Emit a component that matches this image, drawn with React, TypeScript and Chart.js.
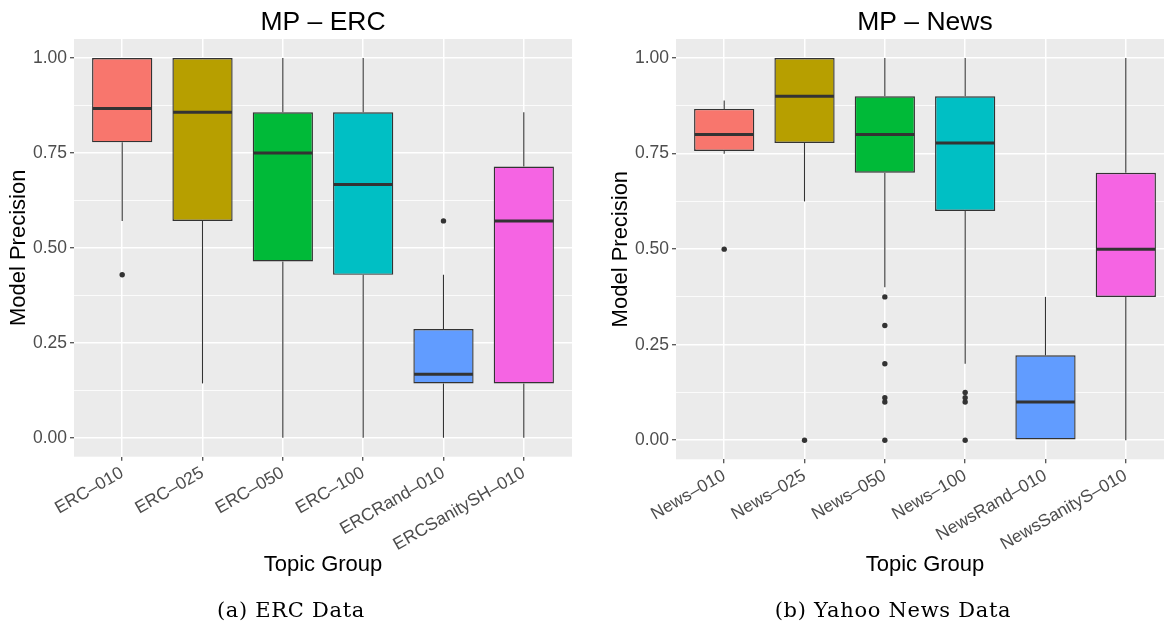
import React, { useEffect, useRef } from 'react';
import { Chart, registerables } from 'chart.js';

Chart.register(...registerables);

// ---------- data ----------
const ercCategories = ['ERC–010', 'ERC–025', 'ERC–050', 'ERC–100', 'ERCRand–010', 'ERCSanitySH–010'];
const ercWhiskerLow = [0.571, 0.143, 0, 0, 0, 0];
const ercQ1 = [0.778, 0.571, 0.464, 0.429, 0.143, 0.143];
const ercMedian = [0.867, 0.857, 0.75, 0.667, 0.167, 0.571];
const ercQ3 = [1.0, 1.0, 0.857, 0.857, 0.286, 0.714];
const ercWhiskerHigh = [1.0, 1.0, 1.0, 1.0, 0.429, 0.857];
const ercOutliers = [[0.429], [], [], [], [0.571], []];

const newsCategories = ['News–010', 'News–025', 'News–050', 'News–100', 'NewsRand–010', 'NewsSanityS–010'];
const newsWhiskerLow = [0.75, 0.625, 0.4, 0.2, 0, 0];
const newsQ1 = [0.757, 0.778, 0.7, 0.6, 0, 0.375];
const newsMedian = [0.8, 0.9, 0.8, 0.778, 0.1, 0.5];
const newsQ3 = [0.867, 1.0, 0.9, 0.9, 0.222, 0.7];
const newsWhiskerHigh = [0.889, 1.0, 1.0, 1.0, 0.375, 1.0];
const newsOutliers = [[0.5], [0], [0.375, 0.3, 0.2, 0.111, 0.1, 0], [0.125, 0.111, 0.1, 0], [], []];

const yMajorTicks = [0, 0.25, 0.5, 0.75, 1.0];
const yMinorTicks = [0.125, 0.375, 0.625, 0.875];

const fillColors = ['#F8766D', '#B79F00', '#00BA38', '#00BFC4', '#619CFF', '#F564E3'];

const FONT = "'Liberation Sans', Arial, Helvetica, sans-serif";
const INK = '#333333';

type Panel = {
  title: string;
  categories: string[];
  lo: number[];
  q1: number[];
  med: number[];
  q3: number[];
  hi: number[];
  outliers: number[][];
  left: number;
  xAxisHeight: number;
};

const panels: Panel[] = [
  {
    title: 'MP – ERC', categories: ercCategories, lo: ercWhiskerLow, q1: ercQ1, med: ercMedian,
    q3: ercQ3, hi: ercWhiskerHigh, outliers: ercOutliers, left: 0, xAxisHeight: 165.3,
  },
  {
    title: 'MP – News', categories: newsCategories, lo: newsWhiskerLow, q1: newsQ1, med: newsMedian,
    q3: newsQ3, hi: newsWhiskerHigh, outliers: newsOutliers, left: 602, xAxisHeight: 162.7,
  },
];

function BoxPlot({ p }: { p: Panel }) {
  const ref = useRef<HTMLCanvasElement>(null);

  useEffect(() => {
    const canvas = ref.current;
    if (!canvas) return;
    const pos = p.categories.map((_, i) => i + 1);
    const yGrid = [...yMajorTicks, ...yMinorTicks].sort((a, b) => a - b);
    const isMajor = (v: number) => yMajorTicks.some((t) => Math.abs(t - v) < 1e-9);

    const panelBg = {
      id: 'panelBg',
      beforeDraw(chart: any) {
        const { ctx, chartArea: a } = chart;
        ctx.save();
        ctx.fillStyle = '#EBEBEB';
        ctx.fillRect(a.left, a.top, a.right - a.left, a.bottom - a.top);
        ctx.restore();
      },
    };

    const boxParts = {
      id: 'boxParts',
      beforeDatasetsDraw(chart: any) {
        const { ctx } = chart;
        const x = chart.scales.x;
        const y = chart.scales.y;
        ctx.save();
        ctx.strokeStyle = INK;
        ctx.lineWidth = 1.1;
        pos.forEach((v, i) => {
          const px = x.getPixelForValue(v);
          ctx.beginPath();
          ctx.moveTo(px, y.getPixelForValue(p.hi[i]));
          ctx.lineTo(px, y.getPixelForValue(p.q3[i]));
          ctx.moveTo(px, y.getPixelForValue(p.q1[i]));
          ctx.lineTo(px, y.getPixelForValue(p.lo[i]));
          ctx.stroke();
        });
        ctx.restore();
      },
      afterDatasetsDraw(chart: any) {
        const { ctx } = chart;
        const y = chart.scales.y;
        const meta = chart.getDatasetMeta(0);
        ctx.save();
        ctx.strokeStyle = INK;
        ctx.lineWidth = 3;
        meta.data.forEach((bar: any, i: number) => {
          const { x: bx, width } = bar.getProps(['x', 'width'], true);
          const py = y.getPixelForValue(p.med[i]);
          ctx.beginPath();
          ctx.moveTo(bx - width / 2 + 0.7, py);
          ctx.lineTo(bx + width / 2 - 0.7, py);
          ctx.stroke();
        });
        ctx.restore();
      },
    };

    const chart = new Chart(canvas, {
      type: 'bar',
      data: {
        datasets: [
          {
            type: 'bar',
            data: pos.map((v, i) => ({ x: v, y: [p.q1[i], p.q3[i]] })) as any,
            backgroundColor: fillColors,
            borderColor: INK,
            borderWidth: 1.4,
            borderSkipped: false,
            barPercentage: 0.75,
            categoryPercentage: 1,
          } as any,
          {
            type: 'scatter',
            data: pos.flatMap((v, i) => p.outliers[i].map((o) => ({ x: v, y: o }))),
            pointRadius: 2.7,
            pointBackgroundColor: INK,
            pointBorderWidth: 0,
            pointHoverRadius: 2.7,
          } as any,
        ],
      },
      options: {
        responsive: false,
        animation: false,
        devicePixelRatio: 1,
        events: [],
        layout: { padding: { left: 0, right: 18, top: 0, bottom: 0 } },
        plugins: {
          legend: { display: false },
          tooltip: { enabled: false },
          title: {
            display: true,
            text: p.title,
            fullSize: false,
            color: '#000000',
            font: { family: FONT, size: 26.5, weight: 'normal', lineHeight: 1.2 },
            padding: { top: 6.5, bottom: 0.7 },
          },
        },
        scales: {
          x: {
            type: 'linear',
            offset: false,
            min: 0.4,
            max: p.categories.length + 0.6,
            afterBuildTicks: (s: any) => {
              s.ticks = pos.map((v) => ({ value: v }));
            },
            afterFit: (s: any) => {
              s.height = p.xAxisHeight;
            },
            ticks: {
              autoSkip: false,
              minRotation: 30,
              maxRotation: 30,
              padding: 2,
              color: '#4D4D4D',
              font: { family: FONT, size: 17.5 },
              callback: (v: any) => p.categories[Math.round(Number(v)) - 1] ?? '',
            },
            grid: {
              offset: false,
              color: '#FFFFFF',
              lineWidth: 1.5,
              tickColor: INK,
              tickLength: 4,
              tickWidth: 1.1,
            },
            border: { display: false },
            title: {
              display: true,
              text: 'Topic Group',
              color: '#000000',
              font: { family: FONT, size: 22, lineHeight: 1.2 },
              padding: { top: 0, bottom: 44.3 },
            },
          } as any,
          y: {
            type: 'linear',
            min: -0.05,
            max: 1.05,
            afterBuildTicks: (s: any) => {
              s.ticks = yGrid.map((v) => ({ value: v }));
            },
            afterFit: (s: any) => {
              s.width = 74;
            },
            ticks: {
              autoSkip: false,
              padding: 3,
              color: '#4D4D4D',
              font: { family: FONT, size: 17.5 },
              callback: (v: any) => (isMajor(Number(v)) ? Number(v).toFixed(2) : ''),
            },
            grid: {
              color: '#FFFFFF',
              lineWidth: (c: any) => (isMajor(c.tick?.value) ? 1.5 : 0.8),
              tickColor: (c: any) => (isMajor(c.tick?.value) ? INK : 'rgba(0,0,0,0)'),
              tickLength: 4,
              tickWidth: 1.1,
            },
            border: { display: false },
            title: {
              display: true,
              text: 'Model Precision',
              color: '#000000',
              font: { family: FONT, size: 22, lineHeight: 1.2 },
              padding: { top: 5.8, bottom: 0 },
            },
          } as any,
        },
      },
      plugins: [panelBg, boxParts],
    });
    return () => chart.destroy();
  }, [p]);

  return (
    <canvas
      ref={ref}
      width={590}
      height={622}
      style={{ position: 'absolute', left: p.left, top: 0, width: 590, height: 622 }}
    />
  );
}

const captionStyle: React.CSSProperties = {
  position: 'absolute',
  top: 598,
  transform: 'translateX(-50%)',
  whiteSpace: 'nowrap',
  fontFamily: "'DejaVu Serif', 'Liberation Serif', serif",
  fontSize: 21,
  letterSpacing: '0.7px',
  lineHeight: '24px',
  color: '#000000',
};

export default function App() {
  return (
    <div
      style={{
        position: 'absolute',
        left: 0,
        top: 0,
        width: 1164,
        height: 622,
        overflow: 'hidden',
        background: '#FFFFFF',
      }}
    >
      {panels.map((p) => (
        <BoxPlot key={p.title} p={p} />
      ))}
      <div style={{ ...captionStyle, left: 291 }}>(a) ERC Data</div>
      <div style={{ ...captionStyle, left: 893 }}>(b) Yahoo News Data</div>
    </div>
  );
}
